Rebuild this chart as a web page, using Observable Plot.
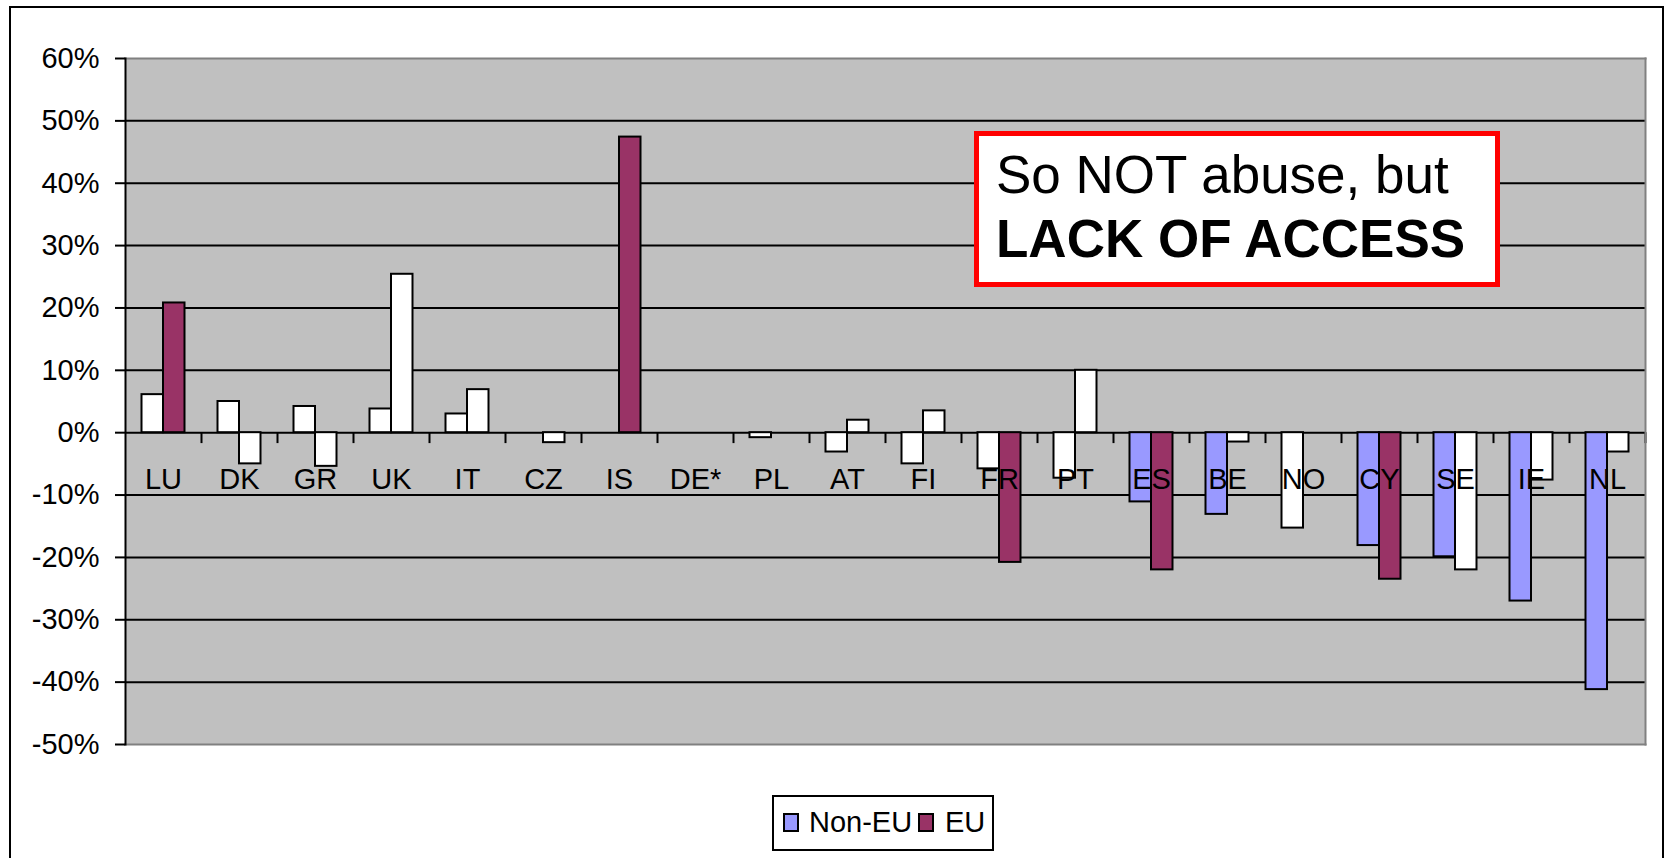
<!DOCTYPE html>
<html>
<head>
<meta charset="utf-8">
<script src="https://cdn.jsdelivr.net/npm/d3@7"></script>
<script src="https://cdn.jsdelivr.net/npm/@observablehq/plot@0.6"></script>
<style>
  body { margin: 0; background: #fff; font-family: "Liberation Sans", Arial, sans-serif; }
  #page { position: relative; width: 1667px; height: 858px; overflow: hidden; }
  #border { position: absolute; left: 9px; top: 6px; width: 1655px; height: 900px; border: 2px solid #000; box-sizing: border-box; }
  #chart { position: absolute; left: 0; top: 0; }
  #note { position: absolute; left: 974px; top: 131px; width: 526px; height: 156px; box-sizing: border-box;
          border: 5px solid #ff0000; background: #fff; padding: 7px 0 0 17px; font-size: 53px; line-height: 64px; color: #000; white-space: nowrap; }
  #note b { font-weight: bold; }
  #legend { position: absolute; left: 772px; top: 795px; width: 222px; height: 56px; box-sizing: border-box; border: 2px solid #000; background: #fff; }
  #legend .sw { position: absolute; top: 16px; width: 16px; height: 19px; box-sizing: border-box; border: 2px solid #000; }
  #legend .lb { position: absolute; top: 11px; font-size: 29px; line-height: 29px; color: #000; white-space: nowrap; }
</style>
</head>
<body>
<div id="page">
  <div id="border"></div>
  <div id="chart"></div>
  <div id="note">So NOT abuse, but<br><b>LACK OF ACCESS</b></div>
  <div id="legend"></div>
</div>
<script>
// Countries along the x axis
const countries = ["LU", "DK", "GR", "UK", "IT", "CZ", "IS", "DE*", "PL", "AT", "FI", "FR", "PT", "ES", "BE", "NO", "CY", "SE", "IE", "NL"];

// Change in percent, per country (null = no bar)
const nonEU = [6.1, 5.0, 4.2, 3.8, 3.0, null, null, null, -0.8, -3.1, -5.0, -5.8, -7.3, -11.1, -13.1, -15.3, -18.1, -19.9, -27.0, -41.2];
const eu    = [20.8, -5.0, -5.4, 25.4, 6.9, -1.6, 47.4, null, null, 2.0, 3.5, -20.8, 10.0, -22.0, -1.5, null, -23.5, -22.0, -7.6, -3.1];

// Whether a bar is drawn in its series colour (otherwise plain white)
const nonEUShaded = [false, false, false, false, false, false, false, false, false, false, false, false, false, true, true, false, true, true, true, true];
const euShaded    = [true, false, false, false, false, false, true, false, false, false, false, true, false, true, false, false, true, false, false, false];

// Series names and colours
const seriesNames = ["Non-EU", "EU"];
const seriesColors = ["#9999FF", "#993366"];

// Y axis ticks (percent)
const yTicks = [-50, -40, -30, -20, -10, 0, 10, 20, 30, 40, 50, 60];

const width = 1667, height = 760;
const marginLeft = 125, marginRight = 22, marginTop = 58, marginBottom = 16;
const step = (width - marginLeft - marginRight) / countries.length;
const barW = 21.5;

const rowsNonEU = countries.map((c, i) => ({country: c, value: nonEU[i], fill: nonEUShaded[i] ? seriesColors[0] : "#ffffff"})).filter(d => d.value != null);
const rowsEU = countries.map((c, i) => ({country: c, value: eu[i], fill: euShaded[i] ? seriesColors[1] : "#ffffff"})).filter(d => d.value != null);

const chart = Plot.plot({
  width, height, marginLeft, marginRight, marginTop, marginBottom,
  style: {fontFamily: "'Liberation Sans', Arial, sans-serif", fontSize: "29px", background: "transparent", color: "#000"},
  x: {domain: countries, padding: 0, axis: null},
  y: {domain: [-50, 60], axis: null},
  color: {type: "identity"},
  marks: [
    Plot.frame({fill: "#C0C0C0", stroke: null}),
    Plot.ruleY(yTicks.filter(t => t > -50 && t < 60), {stroke: "#000", strokeWidth: 2}),
    Plot.barY(rowsNonEU, {x: "country", y: "value", fill: "fill", stroke: "#000", strokeWidth: 2,
      insetLeft: step / 2 - barW, insetRight: step / 2}),
    Plot.barY(rowsEU, {x: "country", y: "value", fill: "fill", stroke: "#000", strokeWidth: 2,
      insetLeft: step / 2, insetRight: step / 2 - barW}),
    // category separators on the zero line
    Plot.ruleX(countries.slice(1), {x: d => d, dx: -step / 2, y1: 0, y2: -1.75, stroke: "#000", strokeWidth: 2}),
    Plot.ruleX([countries[countries.length - 1]], {x: d => d, dx: step / 2, y1: 0, y2: -1.75, stroke: "#000", strokeWidth: 2}),
    Plot.frame({anchor: "top", stroke: "#808080", strokeWidth: 2}),
    Plot.frame({anchor: "right", stroke: "#808080", strokeWidth: 2}),
    Plot.frame({anchor: "bottom", stroke: "#808080", strokeWidth: 2}),
    Plot.frame({anchor: "left", stroke: "#000", strokeWidth: 2}),
    Plot.axisY({ticks: yTicks, tickFormat: d => d + "%", tickSize: 10, tickPadding: 16, fontSize: 29,
      stroke: "#000", strokeWidth: 2, fill: "#000", label: null}),
    Plot.text(countries, {x: d => d, y: 0, text: d => d, dy: 47, fontSize: 29, fill: "#000", lineAnchor: "middle", textAnchor: "middle"})
  ]
});
document.getElementById("chart").appendChild(chart);

// Legend
const legend = document.getElementById("legend");
const swLeft = [9, 144], lbLeft = [35, 171];
seriesNames.forEach((name, i) => {
  const sw = document.createElement("div");
  sw.className = "sw";
  sw.style.left = swLeft[i] + "px";
  sw.style.background = seriesColors[i];
  legend.appendChild(sw);
  const lb = document.createElement("div");
  lb.className = "lb";
  lb.style.left = lbLeft[i] + "px";
  lb.textContent = name;
  legend.appendChild(lb);
});
</script>
</body>
</html>
